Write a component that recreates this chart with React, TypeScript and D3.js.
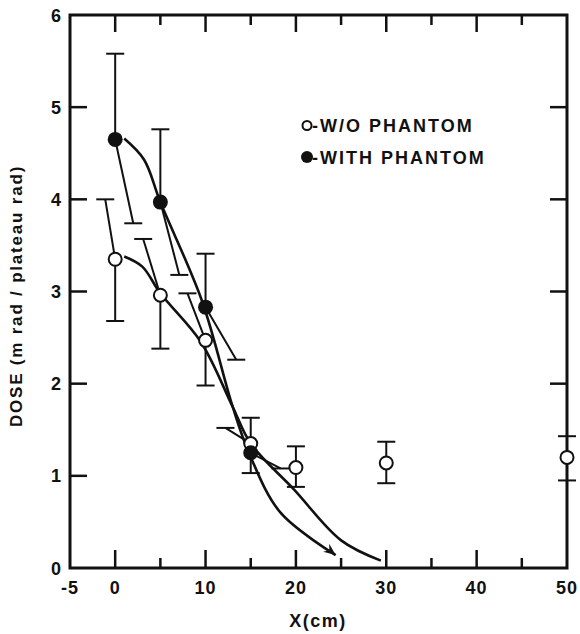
import React, { useRef, useEffect } from 'react';
import * as d3 from 'd3';

// W/O phantom (open circles)
const openX = [0, 5, 10, 15, 20, 30, 50];
const openDose = [3.35, 2.96, 2.47, 1.35, 1.09, 1.14, 1.2];
const openHigh = [4.0, 3.57, 2.98, 1.52, 1.32, 1.37, 1.43];
const openLow = [2.68, 2.38, 1.98, 1.03, 0.88, 0.92, 0.95];
// the upper bars of the first points are drawn leaning to the left
const openHighCapX = [-1.1, 3.1, 8.0, 12.2, 20, 30, 50];

// with phantom (filled circles)
const filledX = [0, 5, 10, 15];
const filledDose = [4.65, 3.97, 2.83, 1.25];
const filledHigh = [5.58, 4.76, 3.41, 1.63];
const filledLow = [3.74, 3.18, 2.26, 1.08];
// lower bars lean to the right
const filledLowCapX = [2.0, 7.1, 13.4, 18.3];

// hand drawn fit curves
const openFitX = [1.0, 3.0, 5.0, 9.5, 13.0, 15.0, 19.8, 25.0, 29.4];
const openFitY = [3.38, 3.27, 2.98, 2.45, 1.75, 1.35, 0.85, 0.3, 0.08];
const filledFitX = [1.0, 3.2, 5.0, 9.6, 13.0, 14.8, 18.3, 24.4];
const filledFitY = [4.66, 4.43, 3.97, 2.9, 1.75, 1.25, 0.6, 0.14];

const xLabels = [-5, 0, 10, 20, 30, 40, 50];
const xMajor = [0, 10, 20, 30, 40];
const xMinor = [5, 15, 25, 35, 45];
const yLabels = [0, 1, 2, 3, 4, 5, 6];
const yLeftTicks = [1, 2, 3, 4, 5];
const yRightTicks = [2, 3, 4, 5];

const legend = ['-W/O PHANTOM', '-WITH PHANTOM'];

function App() {
  const rootRef = useRef<SVGSVGElement>(null);
  const width = 580;
  const height = 634;
  const font = '"Liberation Sans", Arial, Helvetica, sans-serif';

  useEffect(() => {
    const root = d3.select(rootRef.current);
    root.selectAll('*').remove();

    const x = d3.scaleLinear().domain([-5, 50]).range([70, 567]);
    const y = d3.scaleLinear().domain([0, 6]).range([568, 15]);
    const [x0, x1] = x.range();
    const [y0, y1] = y.range();

    // ticks inside the frame
    const ticks = root.append('g').attr('stroke', '#111').attr('stroke-width', 2.5);
    xMajor.forEach(v => {
      ticks.append('line').attr('x1', x(v)).attr('x2', x(v)).attr('y1', y0).attr('y2', y0 - 18);
      ticks.append('line').attr('x1', x(v)).attr('x2', x(v)).attr('y1', y1).attr('y2', y1 + 17);
    });
    xMinor.forEach(v => {
      ticks.append('line').attr('x1', x(v)).attr('x2', x(v)).attr('y1', y0).attr('y2', y0 - 10);
      ticks.append('line').attr('x1', x(v)).attr('x2', x(v)).attr('y1', y1).attr('y2', y1 + 10);
    });
    yLeftTicks.forEach(v => {
      ticks.append('line').attr('x1', x0).attr('x2', x0 + 17).attr('y1', y(v)).attr('y2', y(v));
    });
    yRightTicks.forEach(v => {
      ticks.append('line').attr('x1', x1).attr('x2', x1 - 17).attr('y1', y(v)).attr('y2', y(v));
    });

    // frame
    root.append('rect')
      .attr('x', x0).attr('y', y1)
      .attr('width', x1 - x0).attr('height', y0 - y1)
      .attr('fill', 'none').attr('stroke', '#111').attr('stroke-width', 3);

    // fit curves
    const line = d3.line<[number, number]>()
      .x(d => x(d[0])).y(d => y(d[1]))
      .curve(d3.curveCatmullRom.alpha(0.5));
    const openFit = openFitX.map((v, i) => [v, openFitY[i]] as [number, number]);
    const filledFit = filledFitX.map((v, i) => [v, filledFitY[i]] as [number, number]);
    [openFit, filledFit].forEach(pts => {
      root.append('path').attr('d', line(pts))
        .attr('fill', 'none').attr('stroke', '#111').attr('stroke-width', 2.6);
    });

    // arrow head at the end of the filled fit
    const a = filledFit[filledFit.length - 1];
    const b = filledFit[filledFit.length - 2];
    const tx = x(a[0]), ty = y(a[1]);
    let dx = tx - x(b[0]), dy = ty - y(b[1]);
    const len = Math.hypot(dx, dy);
    dx /= len; dy /= len;
    const bx = tx - dx * 12, by = ty - dy * 12;
    root.append('path')
      .attr('d', `M${tx},${ty}L${bx - dy * 5},${by + dx * 5}L${tx - dx * 8},${ty - dy * 8}L${bx + dy * 5},${by - dx * 5}Z`)
      .attr('fill', '#111');

    // error bars
    const bars = root.append('g').attr('stroke', '#111').attr('stroke-width', 2);
    const cap = (cx: number, cy: number) => {
      bars.append('line').attr('x1', cx - 9).attr('x2', cx + 9).attr('y1', cy).attr('y2', cy);
    };
    openX.forEach((v, i) => {
      bars.append('line').attr('x1', x(v)).attr('y1', y(openDose[i]))
        .attr('x2', x(openHighCapX[i])).attr('y2', y(openHigh[i]));
      cap(x(openHighCapX[i]), y(openHigh[i]));
      bars.append('line').attr('x1', x(v)).attr('y1', y(openDose[i]))
        .attr('x2', x(v)).attr('y2', y(openLow[i]));
      cap(x(v), y(openLow[i]));
    });
    filledX.forEach((v, i) => {
      bars.append('line').attr('x1', x(v)).attr('y1', y(filledDose[i]))
        .attr('x2', x(v)).attr('y2', y(filledHigh[i]));
      cap(x(v), y(filledHigh[i]));
      bars.append('line').attr('x1', x(v)).attr('y1', y(filledDose[i]))
        .attr('x2', x(filledLowCapX[i])).attr('y2', y(filledLow[i]));
      cap(x(filledLowCapX[i]), y(filledLow[i]));
    });

    // markers
    root.append('g').selectAll('circle')
      .data(openX)
      .enter().append('circle')
      .attr('cx', d => x(d))
      .attr('cy', (d, i) => y(openDose[i]))
      .attr('r', 6.5)
      .attr('fill', '#fff').attr('stroke', '#111').attr('stroke-width', 2);
    root.append('g').selectAll('circle')
      .data(filledX)
      .enter().append('circle')
      .attr('cx', d => x(d))
      .attr('cy', (d, i) => y(filledDose[i]))
      .attr('r', 7.5)
      .attr('fill', '#111');

    // tick labels
    const labels = root.append('g')
      .attr('font-family', font).attr('font-weight', 'bold')
      .attr('font-size', 18).attr('fill', '#111').attr('letter-spacing', 1);
    xLabels.forEach(v => {
      labels.append('text').attr('x', x(v)).attr('y', 594)
        .attr('text-anchor', 'middle').text(v);
    });
    yLabels.forEach(v => {
      labels.append('text').attr('x', 62).attr('y', y(v) + 6.5)
        .attr('text-anchor', 'end').text(v);
    });

    // axis titles
    labels.append('text').attr('x', 318).attr('y', 627)
      .attr('text-anchor', 'middle').attr('letter-spacing', 1.5).text('X(cm)');
    labels.append('text')
      .attr('transform', 'translate(22,296) rotate(-90)')
      .attr('text-anchor', 'middle').attr('font-size', 17).attr('letter-spacing', 1.8)
      .text('DOSE (m rad / plateau rad)');

    // legend
    root.append('circle').attr('cx', 307).attr('cy', 125.5).attr('r', 4.5)
      .attr('fill', '#fff').attr('stroke', '#111').attr('stroke-width', 2);
    root.append('circle').attr('cx', 307).attr('cy', 157).attr('r', 6)
      .attr('fill', '#111');
    legend.forEach((t, i) => {
      labels.append('text').attr('x', 312).attr('y', 132 + i * 31.5)
        .attr('letter-spacing', 2).text(t);
    });
  });

  return (
    <div style={{ position: 'absolute', left: 0, top: 0 }}>
      <svg width={width} height={height} ref={rootRef} style={{ display: 'block', background: '#fff' }}></svg>
    </div>
  );
}

export default App;
